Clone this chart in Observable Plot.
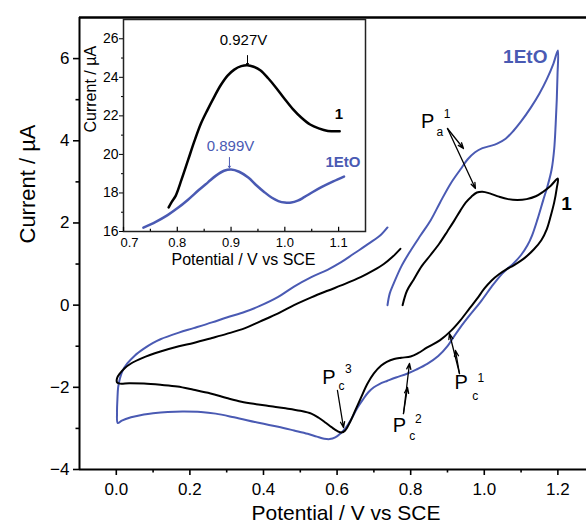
<!DOCTYPE html>
<html><head><meta charset="utf-8">
<script src="https://cdn.jsdelivr.net/npm/d3@7"></script>
<script src="https://cdn.jsdelivr.net/npm/@observablehq/plot@0.6"></script>
<style>
html,body{margin:0;padding:0;background:#fff;overflow:hidden}
#wrap{position:relative;width:586px;height:530px}
#inset{position:absolute;left:70px;top:0}
</style></head><body><div id="wrap"><div id="main"></div><div id="inset"></div></div>
<script>
// ---- main axes ticks
const xMajor = [0, 0.2, 0.4, 0.6, 0.8, 1.0, 1.2];
const xMinor = [0.1, 0.3, 0.5, 0.7, 0.9, 1.1];
const yMajor = [-4, -2, 0, 2, 4, 6];
const yMinor = [-3, -1, 1, 3, 5];
// ---- inset ticks
const insetXMajor = [0.8, 0.9, 1.0, 1.1];
const insetXFirst = [0.7];
const insetXMinor = [0.75, 0.85, 0.95, 1.05];
const insetYMajor = [16, 18, 20, 22, 24, 26];
const insetYMinor = [17, 19, 21, 23, 25];

const BLUE = "#4a5ab3";

// ---- CV of compound 1 (potential V, current µA)
const cv1 = [[0.778,0.0],[0.79,0.35],[0.808,0.62],[0.83,0.95],[0.854,1.22],[0.878,1.5],[0.9,1.8],[0.918,2.05],[0.935,2.3],[0.95,2.5],[0.965,2.64],[0.98,2.74],[0.995,2.76],[1.015,2.72],[1.04,2.64],[1.065,2.58],[1.09,2.56],[1.115,2.58],[1.14,2.65],[1.16,2.76],[1.18,2.9],[1.2,3.08],
[1.197,2.85],[1.19,2.5],[1.18,2.15],[1.17,1.85],[1.155,1.58],[1.135,1.36],[1.11,1.15],[1.08,0.97],[1.06,0.87],[1.04,0.75],[1.02,0.6],[1.0,0.4],[0.98,0.15],[0.96,-0.08],[0.935,-0.37],[0.91,-0.62],[0.88,-0.85],[0.845,-1.03],[0.82,-1.17],[0.8,-1.25],[0.775,-1.28],[0.755,-1.31],[0.735,-1.38],[0.72,-1.47],[0.7,-1.66],[0.682,-1.92],[0.665,-2.25],[0.65,-2.55],[0.635,-2.85],[0.622,-3.05],[0.612,-3.1],[0.6,-3.06],[0.585,-2.97],[0.57,-2.87],[0.55,-2.74],[0.53,-2.64],[0.5,-2.57],[0.46,-2.51],[0.42,-2.46],[0.38,-2.41],[0.34,-2.35],[0.3,-2.26],[0.256,-2.15],[0.21,-2.06],[0.166,-1.98],[0.12,-1.94],[0.075,-1.91],[0.035,-1.9],[0.01,-1.91],[0.002,-1.88],[0.002,-1.78],[0.01,-1.66],[0.022,-1.54],[0.04,-1.42],[0.07,-1.29],[0.12,-1.13],[0.17,-1.0],[0.21,-0.92],[0.26,-0.8],[0.3,-0.7],[0.35,-0.56],[0.39,-0.4],[0.44,-0.2],[0.483,0.0],[0.53,0.19],[0.574,0.35],[0.62,0.51],[0.664,0.68],[0.7,0.85],[0.727,1.0],[0.75,1.17],[0.772,1.37]];

// ---- CV of compound 1EtO
const cvEtO = [[0.737,0.0],[0.743,0.28],[0.754,0.53],[0.775,0.95],[0.8,1.33],[0.827,1.7],[0.854,2.06],[0.88,2.5],[0.908,2.95],[0.935,3.3],[0.955,3.55],[0.975,3.72],[0.995,3.82],[1.015,3.87],[1.035,3.93],[1.058,4.05],[1.08,4.25],[1.1,4.47],[1.126,4.8],[1.15,5.15],[1.17,5.5],[1.188,5.88],[1.2,6.2],
[1.199,5.6],[1.197,5.0],[1.194,4.4],[1.19,3.8],[1.183,3.3],[1.172,2.9],[1.16,2.55],[1.145,2.1],[1.13,1.7],[1.117,1.45],[1.1,1.22],[1.08,1.02],[1.06,0.86],[1.044,0.72],[1.02,0.45],[0.99,0.08],[0.96,-0.25],[0.935,-0.54],[0.915,-0.8],[0.9,-1.0],[0.875,-1.24],[0.845,-1.43],[0.815,-1.57],[0.79,-1.67],[0.76,-1.76],[0.737,-1.84],[0.715,-1.92],[0.7,-2.0],[0.685,-2.12],[0.67,-2.3],[0.655,-2.5],[0.64,-2.75],[0.625,-2.97],[0.61,-3.12],[0.595,-3.22],[0.58,-3.26],[0.565,-3.25],[0.545,-3.2],[0.52,-3.13],[0.483,-3.05],[0.44,-2.96],[0.39,-2.87],[0.32,-2.73],[0.27,-2.64],[0.23,-2.6],[0.18,-2.59],[0.14,-2.6],[0.1,-2.63],[0.075,-2.66],[0.04,-2.73],[0.015,-2.81],[0.004,-2.87],[0.002,-2.6],[0.003,-2.3],[0.005,-2.0],[0.01,-1.78],[0.017,-1.6],[0.03,-1.42],[0.05,-1.23],[0.075,-1.06],[0.1,-0.92],[0.12,-0.83],[0.17,-0.67],[0.21,-0.56],[0.26,-0.42],[0.3,-0.3],[0.35,-0.16],[0.39,-0.02],[0.44,0.2],[0.483,0.45],[0.53,0.68],[0.574,0.86],[0.61,1.04],[0.645,1.25],[0.69,1.52],[0.72,1.72],[0.737,1.89]];

// ---- inset DPV curves
const dpv1 = [[0.784,17.25],[0.79,17.55],[0.797,17.85],[0.808,18.7],[0.82,19.7],[0.832,20.7],[0.844,21.6],[0.856,22.3],[0.868,22.95],[0.881,23.6],[0.894,24.1],[0.906,24.4],[0.919,24.58],[0.93,24.63],[0.942,24.55],[0.955,24.35],[0.969,23.95],[0.984,23.45],[0.999,22.9],[1.015,22.35],[1.031,21.9],[1.047,21.55],[1.063,21.35],[1.08,21.22],[1.102,21.2]];
const dpvEtO = [[0.737,16.2],[0.76,16.5],[0.782,16.85],[0.8,17.2],[0.82,17.65],[0.84,18.15],[0.857,18.55],[0.872,18.9],[0.887,19.15],[0.9,19.22],[0.915,19.1],[0.932,18.8],[0.947,18.4],[0.962,18.04],[0.976,17.75],[0.988,17.58],[1.0,17.5],[1.012,17.5],[1.024,17.6],[1.036,17.78],[1.052,18.05],[1.068,18.3],[1.09,18.6],[1.11,18.85]];

// ---- peak annotations (data coordinates)
const peakP = [{x:0.828,y:4.457},{x:0.56,y:-1.773},{x:0.751,y:-2.941},{x:0.919,y:-1.895}];
const peakSub = [{x:0.8705,y:4.214,t:"a"},{x:0.604,y:-1.98,t:"c"},{x:0.796,y:-3.197,t:"c"},{x:0.967,y:-2.223,t:"c"}];
const peakSup = [{x:0.8900,y:4.64,t:"1"},{x:0.6215,y:-1.566,t:"3"},{x:0.8118,y:-2.783,t:"2"},{x:0.9816,y:-1.785,t:"1"}];
const peakArrows = [
  {x1:0.9,y1:4.299,x2:0.9435,y2:3.812},
  {x1:0.9,y1:4.299,x2:0.976,y2:2.839},
  {x1:0.601,y1:-2.077,x2:0.6174,y2:-2.978},
  {x1:0.7804,y1:-2.637,x2:0.7913,y2:-2.004},
  {x1:0.7804,y1:-2.637,x2:0.7967,y2:-1.42},
  {x1:0.9326,y1:-1.664,x2:0.9217,y2:-1.104},
  {x1:0.9326,y1:-1.664,x2:0.9054,y2:-0.69}
];
const mainLabelEtO = [{x:1.1717,y:6.05,t:"1EtO"}];
const mainLabel1 = [{x:1.2234,y:2.46,t:"1"}];
const insetLabel1 = [{x:1.1007,y:22.07,t:"1"}];
const insetLabelEtO = [{x:1.1407,y:19.58,t:"1EtO"}];
const insetPeaks = [{x:0.9231,y:25.91,t:"0.927V",c:"black",ax:0.9306,ay1:25.13,ay2:24.63},{x:0.899,y:20.41,t:"0.899V",c:BLUE,ax:0.897,ay1:19.84,ay2:19.3}];

const FONT = "'Liberation Sans', Arial, Helvetica, sans-serif";

const main = Plot.plot({
  width: 586, height: 530,
  marginLeft: 79, marginRight: 0, marginTop: 17, marginBottom: 61,
  x: {domain: [-0.1, 1.2778]},
  y: {domain: [-4, 7]},
  style: {fontFamily: FONT, background: "white", color: "black", overflow: "visible"},
  marks: [
    Plot.axisX(xMajor, {tickSize: 6, tickPadding: 7, fontSize: 17, tickFormat: d3.format(".1f"), label: null, strokeWidth: 1.6}),
    Plot.axisX(xMinor, {tickSize: 3.5, tickFormat: () => "", label: null, strokeWidth: 1.6}),
    Plot.axisY(yMajor, {tickSize: 6, tickPadding: 4, fontSize: 17, label: null, strokeWidth: 1.6}),
    Plot.axisY(yMinor, {tickSize: 3.5, tickFormat: () => "", label: null, strokeWidth: 1.6}),
    Plot.ruleX([-0.1], {strokeWidth: 2}),
    Plot.ruleY([-4], {strokeWidth: 2}),
    Plot.ruleY([7], {strokeWidth: 2.5}),
    Plot.text(["Current / µA"], {frameAnchor: "left", rotate: -90, dx: -52, fontSize: 22}),
    Plot.text(["Potential / V vs SCE"], {frameAnchor: "bottom", dy: 50, dx: 13, fontSize: 21}),
    Plot.line(cvEtO, {stroke: BLUE, strokeWidth: 2, curve: "catmull-rom"}),
    Plot.line(cv1, {stroke: "black", strokeWidth: 2, curve: "catmull-rom"}),
    Plot.arrow(peakArrows, {x1: "x1", y1: "y1", x2: "x2", y2: "y2", stroke: "black", strokeWidth: 1.3, headLength: 7, headAngle: 40}),
    Plot.text(peakP, {x: "x", y: "y", text: () => "P", fontSize: 20, textAnchor: "start"}),
    Plot.text(peakSub, {x: "x", y: "y", text: "t", fontSize: 12, textAnchor: "start"}),
    Plot.text(peakSup, {x: "x", y: "y", text: "t", fontSize: 12, textAnchor: "start"}),
    Plot.text(mainLabelEtO, {x: "x", y: "y", text: "t", fill: BLUE, textAnchor: "end", fontSize: 19, fontWeight: "bold"}),
    Plot.text(mainLabel1, {x: "x", y: "y", text: "t", fill: "black", fontSize: 19, fontWeight: "bold"})
  ]
});
document.getElementById("main").appendChild(main);

const inset = Plot.plot({
  width: 300, height: 275,
  marginLeft: 53, marginRight: 5, marginTop: 19, marginBottom: 44,
  x: {domain: [0.7, 1.15]},
  y: {domain: [16, 27]},
  style: {fontFamily: FONT, background: "transparent", color: "black", overflow: "visible"},
  marks: [
    Plot.frame({stroke: "#222", strokeWidth: 1.5, fill: "white"}),
    Plot.axisY(insetYMajor, {tickSize: 4, tickPadding: 1, fontSize: 14, label: null}),
    Plot.axisY(insetYMinor, {tickSize: 2, tickFormat: () => "", label: null}),
    Plot.axisX(insetXMajor, {tickSize: 0, tickPadding: 6, fontSize: 13, tickFormat: d3.format(".1f"), label: null}),
    Plot.axisX(insetXFirst, {tickSize: 0, tickPadding: 6, fontSize: 13, tickFormat: d3.format(".1f"), label: null, dx: 6}),
    Plot.ruleX(insetXMajor.concat(insetXFirst), {y1: 16, y2: 16.22, strokeWidth: 1.2}),
    Plot.ruleX(insetXMinor, {y1: 16, y2: 16.12, strokeWidth: 1.2}),
    Plot.text(["Current / µA"], {frameAnchor: "left", rotate: -90, dx: -33, dy: 7, fontSize: 16}),
    Plot.text(["Potential / V vs SCE"], {frameAnchor: "bottom", dy: 33, dx: -1, fontSize: 16}),
    Plot.line(dpvEtO, {stroke: BLUE, strokeWidth: 2.5, curve: "catmull-rom"}),
    Plot.line(dpv1, {stroke: "black", strokeWidth: 2.5, curve: "catmull-rom"}),
    Plot.arrow(insetPeaks, {x1: "ax", x2: "ax", y1: "ay1", y2: "ay2", stroke: "c", strokeWidth: 1, headLength: 3}),
    Plot.text(insetPeaks, {x: "x", y: "y", text: "t", fill: "c", fontSize: 15}),
    Plot.text(insetLabel1, {x: "x", y: "y", text: "t", fill: "black", fontSize: 15, fontWeight: "bold"}),
    Plot.text(insetLabelEtO, {x: "x", y: "y", text: "t", fill: BLUE, textAnchor: "end", fontSize: 15, fontWeight: "bold"})
  ]
});
document.getElementById("inset").appendChild(inset);
</script></body></html>
